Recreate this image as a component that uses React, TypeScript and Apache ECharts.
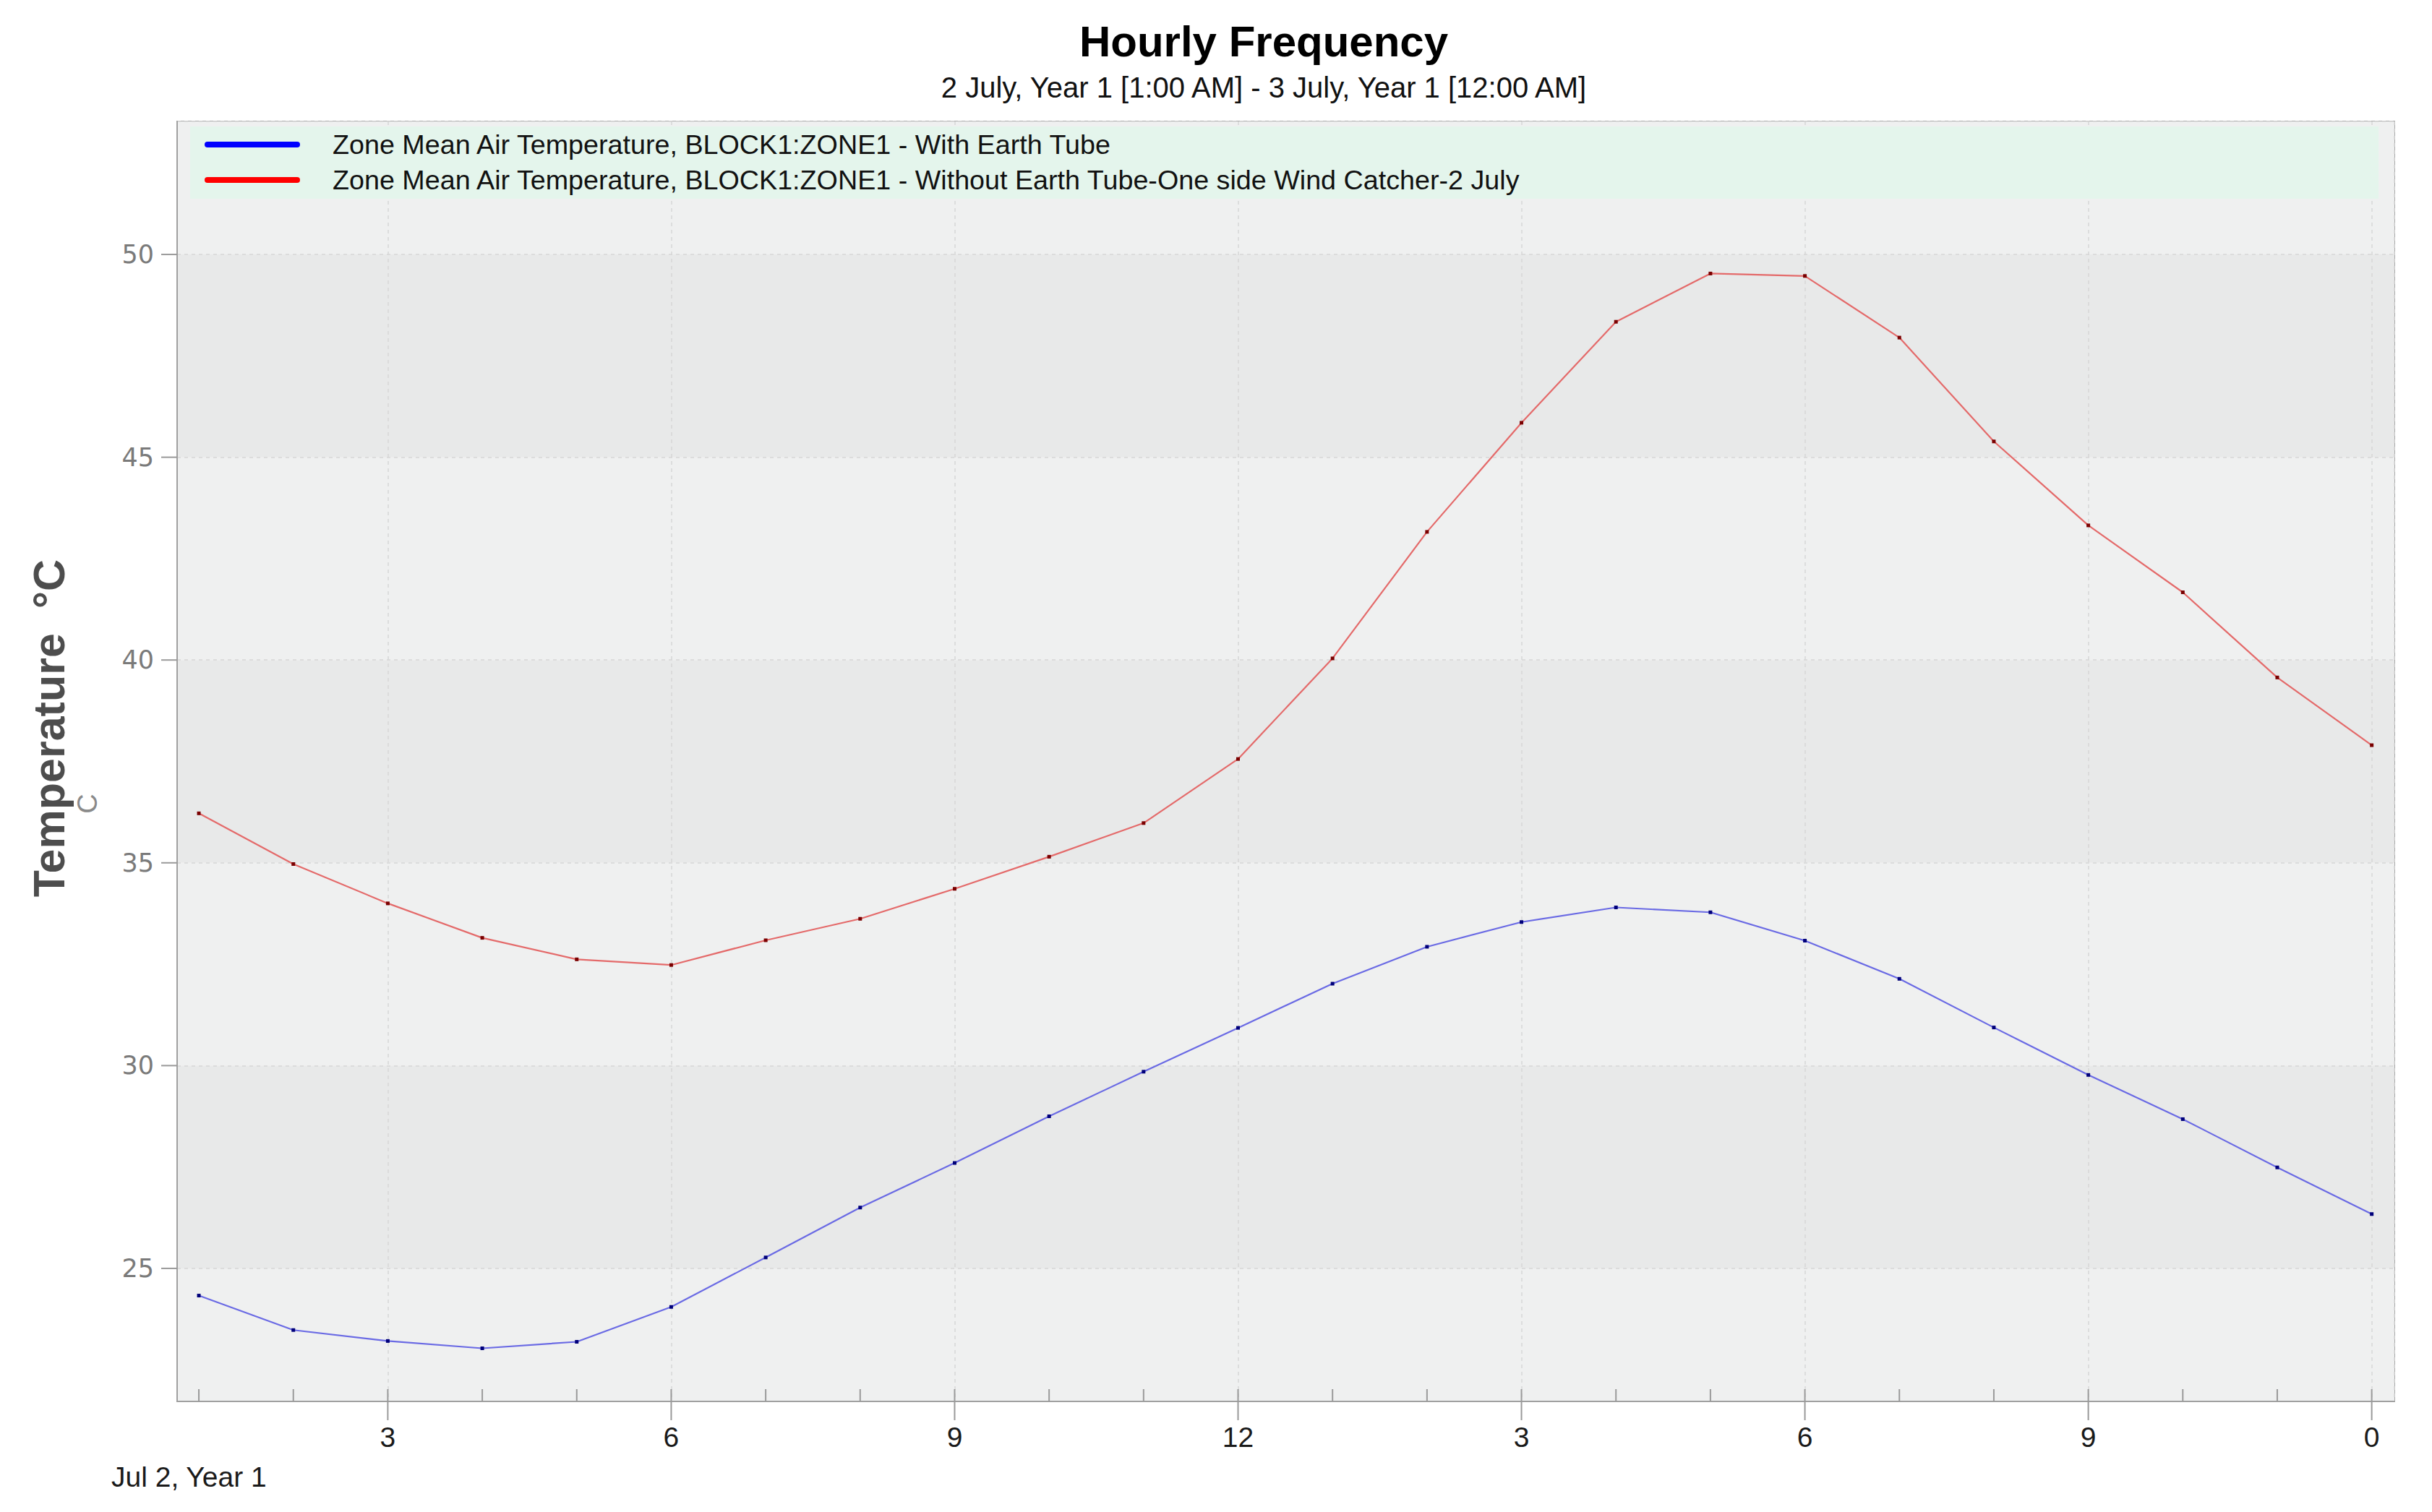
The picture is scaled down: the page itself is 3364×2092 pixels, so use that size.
import React, { useEffect, useRef } from 'react';
import * as echarts from 'echarts';

// ---- data ----
const hours = [1, 2, 3, 4, 5, 6, 7, 8, 9, 10, 11, 12, 13, 14, 15, 16, 17, 18, 19, 20, 21, 22, 23, 24];
const withEarthTube = [24.33, 23.48, 23.21, 23.03, 23.19, 24.05, 25.27, 26.5, 27.6, 28.75, 29.85, 30.93, 32.02, 32.93, 33.54, 33.9, 33.78, 33.08, 32.14, 30.94, 29.77, 28.68, 27.49, 26.34];
const withoutEarthTube = [36.22, 34.97, 34.0, 33.15, 32.62, 32.48, 33.09, 33.62, 34.36, 35.15, 35.98, 37.56, 40.04, 43.16, 45.85, 48.34, 49.53, 49.47, 47.95, 45.39, 43.32, 41.67, 39.57, 37.9];
const seriesNames = [
  'Zone Mean Air Temperature, BLOCK1:ZONE1 - With Earth Tube',
  'Zone Mean Air Temperature, BLOCK1:ZONE1 - Without Earth Tube-One side Wind Catcher-2 July',
];
const labeledHours = [3, 6, 9, 12, 15, 18, 21, 24];
const hourLabels = ['3', '6', '9', '12', '3', '6', '9', '0'];
const yTickValues = [25, 30, 35, 40, 45, 50];
const titleText = 'Hourly Frequency';
const subtitleText = '2 July, Year 1 [1:00 AM] - 3 July, Year 1 [12:00 AM]';
const dateLabel = 'Jul 2, Year 1';
const yAxisName = 'Temperature  °C';
const unitLabel = 'C';

const X_MIN = 0.77;
const X_MAX = 24.24;
const Y_MIN = 21.72;
const Y_MAX = 53.28;

const FONT = "'Liberation Sans', Arial, sans-serif";
const TICK_FONT = "'DejaVu Sans', Verdana, sans-serif";

export default function App() {
  const ref = useRef<HTMLDivElement>(null);

  useEffect(() => {
    if (!ref.current) return;
    const chart = echarts.init(ref.current, null, { renderer: 'svg' });

    const xFormatter = (v: number) => {
      const i = labeledHours.findIndex((h) => Math.abs(h - v) < 1e-6);
      return i >= 0 ? hourLabels[i] : '';
    };
    const yFormatter = (v: number) => {
      const i = yTickValues.findIndex((t) => Math.abs(t - v) < 1e-6);
      return i >= 0 ? String(yTickValues[i]) : '';
    };

    const option: any = {
      animation: false,
      backgroundColor: '#ffffff',
      textStyle: { fontFamily: FONT },
      title: {
        text: titleText,
        subtext: subtitleText,
        left: 1748,
        top: 27,
        textAlign: 'center',
        padding: 0,
        itemGap: 14,
        textStyle: { fontFamily: FONT, fontSize: 60, fontWeight: 'bold', color: '#000000' },
        subtextStyle: { fontFamily: FONT, fontSize: 40, color: '#111111' },
      },
      legend: {
        orient: 'vertical',
        left: 283,
        top: 181,
        padding: 0,
        itemWidth: 132,
        itemHeight: 8,
        itemGap: 11,
        icon: 'path://M4,0L128,0A4,4,0,0,1,128,8L4,8A4,4,0,0,1,4,0Z',
        selectedMode: false,
        textStyle: { fontFamily: FONT, fontSize: 37.7, color: '#111111', padding: [0, 0, 0, 40] },
        data: [
          { name: seriesNames[0], itemStyle: { color: '#0000ff' } },
          { name: seriesNames[1], itemStyle: { color: '#ff0000' } },
        ],
        z: 5,
      },
      grid: {
        left: 245,
        right: 52,
        top: 168,
        bottom: 153,
        show: true,
        borderColor: '#a9a9a9',
        borderWidth: 2,
        backgroundColor: 'transparent',
      },
      xAxis: {
        type: 'value',
        min: X_MIN,
        max: X_MAX,
        splitNumber: 8,
        axisLine: { show: true, lineStyle: { color: '#a0a0a0', width: 2 } },
        axisTick: { show: false },
        axisLabel: {
          formatter: xFormatter,
          color: '#1a1a1a',
          fontFamily: FONT,
          fontSize: 39,
          margin: 30,
          showMinLabel: false,
          showMaxLabel: false,
        },
        splitLine: { show: true, lineStyle: { color: '#d6d6d6', width: 1.5, type: [5, 5] } },
      },
      yAxis: {
        type: 'value',
        min: Y_MIN,
        max: Y_MAX,
        splitNumber: 6,
        axisLine: { show: true, lineStyle: { color: '#a0a0a0', width: 2 } },
        axisTick: { show: false },
        axisLabel: {
          formatter: yFormatter,
          color: '#7a7a7a',
          fontFamily: TICK_FONT,
          fontSize: 35,
          margin: 32,
          showMinLabel: false,
          showMaxLabel: false,
        },
        splitLine: { show: true, lineStyle: { color: '#d6d6d6', width: 1.5, type: [5, 5] } },
        splitArea: { show: true, areaStyle: { color: ['#eff0f0', '#e8e9e9'] } },
        name: yAxisName,
        nameLocation: 'middle',
        nameRotate: 90,
        nameGap: 147,
        nameTextStyle: {
          fontFamily: FONT,
          fontSize: 61,
          fontWeight: 'bold',
          color: '#4d4d4d',
          padding: [0, 0, 0, 92],
        },
      },
      graphic: [
        {
          type: 'rect',
          z: 1,
          silent: true,
          shape: { x: 263, y: 175, width: 3027, height: 100 },
          style: { fill: '#e4f5ec' },
        },
        {
          type: 'text',
          x: 121,
          y: 1112,
          rotation: Math.PI / 2,
          silent: true,
          style: {
            text: unitLabel,
            fontFamily: FONT,
            fontSize: 38,
            fill: '#8a8a8a',
            align: 'center',
            verticalAlign: 'middle',
          },
        },
        {
          type: 'text',
          x: 154,
          y: 2043,
          silent: true,
          style: {
            text: dateLabel,
            fontFamily: FONT,
            fontSize: 39,
            fill: '#1a1a1a',
            align: 'left',
            verticalAlign: 'middle',
          },
        },
      ],
      series: [
        {
          name: seriesNames[0],
          type: 'line',
          data: hours.map((h, i) => [h, withEarthTube[i]]),
          symbol: 'rect',
          symbolSize: 5,
          showSymbol: true,
          lineStyle: { color: '#6a6ae4', width: 2.2 },
          itemStyle: { color: '#00007a' },
          z: 4,
        },
        {
          name: seriesNames[1],
          type: 'line',
          data: hours.map((h, i) => [h, withoutEarthTube[i]]),
          symbol: 'rect',
          symbolSize: 5,
          showSymbol: true,
          lineStyle: { color: '#e46a6a', width: 2.2 },
          itemStyle: { color: '#7a0000' },
          z: 4,
        },
        {
          name: 'xTicks',
          type: 'custom',
          silent: true,
          clip: false,
          z: 3,
          data: hours.map((h) => [h, Y_MIN]),
          renderItem: (params: any, api: any) => {
            const h = api.value(0);
            const p = api.coord([h, Y_MIN]);
            const major = labeledHours.indexOf(h) >= 0;
            return {
              type: 'line',
              shape: { x1: p[0], y1: p[1] - 17, x2: p[0], y2: major ? p[1] + 26 : p[1] },
              style: { stroke: '#9a9a9a', lineWidth: 2 },
            };
          },
        },
        {
          name: 'yTicks',
          type: 'custom',
          silent: true,
          clip: false,
          z: 3,
          data: yTickValues.map((v) => [X_MIN, v]),
          renderItem: (params: any, api: any) => {
            const v = api.value(1);
            const p = api.coord([X_MIN, v]);
            return {
              type: 'line',
              shape: { x1: p[0] - 22, y1: p[1], x2: p[0], y2: p[1] },
              style: { stroke: '#9a9a9a', lineWidth: 2 },
            };
          },
        },
      ],
    };

    chart.setOption(option);
    return () => {
      chart.dispose();
    };
  }, []);

  return (
    <div
      ref={ref}
      style={{ position: 'fixed', left: 0, top: 0, width: 3364, height: 2092, background: '#ffffff' }}
    />
  );
}
